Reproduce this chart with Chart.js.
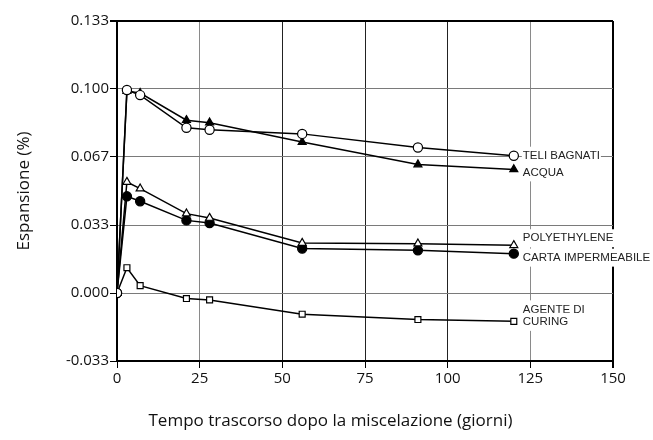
<!DOCTYPE html>
<html>
<head>
<meta charset="utf-8">
<script src="https://cdn.jsdelivr.net/npm/chart.js@4/dist/chart.umd.min.js"></script>
<style>
  html, body { margin: 0; padding: 0; background: #fff; }
  #wrap { width: 653px; height: 440px; }
</style>
</head>
<body>
<div id="wrap"><canvas id="chart" width="653" height="440"></canvas></div>
<script>
// giorni dopo la miscelazione
const giorni = [0, 3, 7, 21, 28, 56, 91, 120];

// espansione (%) per tipo di stagionatura
const teliBagnati = [0, 0.0995, 0.0970, 0.0810, 0.0800, 0.0780, 0.0713, 0.0673];
const acqua = [0, 0.0990, 0.0980, 0.0847, 0.0835, 0.0740, 0.0630, 0.0606];
const polyethylene = [0, 0.0544, 0.0512, 0.0389, 0.0368, 0.0245, 0.0242, 0.0234];
const cartaImpermeabile = [0, 0.0474, 0.0450, 0.0356, 0.0343, 0.0218, 0.0209, 0.0193];
const agenteCuring = [0, 0.0124, 0.0036, -0.0027, -0.0034, -0.0104, -0.0130, -0.0139];

const nomiSerie = [["TELI BAGNATI"], ["ACQUA"], ["POLYETHYLENE"], ["CARTA IMPERMEABILE"], ["AGENTE DI", "CURING"]];

const yTickValori = [-0.1 / 3, 0, 0.1 / 3, 0.2 / 3, 0.3 / 3, 0.4 / 3];
const yTickEtichette = ["-0.033", "0.000", "0.033", "0.067", "0.100", "0.133"];
const xTickValori = [0, 25, 50, 75, 100, 125, 150];
const titoloX = "Tempo trascorso dopo la miscelazione (giorni)";

function punti(valori) {
  return giorni.map((g, i) => ({ x: g, y: valori[i] }));
}

function serie(valori, stile, riempito) {
  return {
    data: punti(valori),
    borderColor: "#000",
    borderWidth: 1.5,
    pointStyle: stile,
    pointRadius: stile === "rect" ? 4.2 : 4.6,
    pointBorderWidth: 1.2,
    pointBorderColor: "#000",
    pointBackgroundColor: riempito ? "#000" : "#fff",
    tension: 0
  };
}

// scostamento verticale (px) delle etichette rispetto all'ultimo punto
const offsetEtichette = [0, 3, -7, 4, -12];

const etichettePlugin = {
  id: "etichette",
  afterDatasetsDraw(chart) {
    const c = chart.ctx;
    c.save();
    c.font = "11.5px 'Liberation Sans', Arial, sans-serif";
    c.textBaseline = "middle";
    chart.data.datasets.forEach((ds, i) => {
      const meta = chart.getDatasetMeta(i);
      const ultimo = meta.data[meta.data.length - 1];
      const x0 = ultimo.x + 9;
      let y = ultimo.y + offsetEtichette[i];
      nomiSerie[i].forEach(riga => {
        const w = c.measureText(riga).width;
        c.fillStyle = "#fff";
        c.fillRect(x0 - 1, y - 9, w + 2, 18);
        c.fillStyle = "#222";
        c.fillText(riga, x0, y);
        y += 12.5;
      });
    });
    // titolo asse x, centrato sulla figura
    c.font = "17px 'Open Sans', sans-serif";
    c.fillStyle = "#111";
    c.textAlign = "center";
    c.fillText(titoloX, chart.width / 2 + 4, 421);
    c.restore();
  }
};

const tickFont = { family: "'Open Sans', sans-serif", size: 15 };

new Chart(document.getElementById("chart"), {
  type: "line",
  data: {
    datasets: [
      serie(teliBagnati, "circle", false),
      serie(acqua, "triangle", true),
      serie(polyethylene, "triangle", false),
      serie(cartaImpermeabile, "circle", true),
      serie(agenteCuring, "rect", false)
    ]
  },
  options: {
    responsive: false,
    animation: false,
    layout: { padding: { top: 21, right: 40, left: 0, bottom: 0 } },
    plugins: { legend: { display: false }, tooltip: { enabled: false } },
    scales: {
      x: {
        type: "linear",
        min: 0,
        max: 150,
        afterBuildTicks: s => { s.ticks = xTickValori.map(v => ({ value: v })); },
        afterFit: s => { s.height = 79; },
        border: { color: "#000", width: 2 },
        grid: {
          color: c => {
            const v = c.tick.value;
            if (v === 150) return "#000";
            if (v === 25 || v === 125) return "#8a8a8a";
            return "#222";
          },
          lineWidth: c => (c.tick.value === 150 ? 2 : 1),
          tickColor: "#000",
          tickLength: 7
        },
        ticks: { font: tickFont, color: "#111", padding: 2, maxRotation: 0 },
        title: { display: false }
      },
      y: {
        type: "linear",
        min: -0.1 / 3,
        max: 0.4 / 3,
        afterBuildTicks: s => { s.ticks = yTickValori.map(v => ({ value: v })); },
        afterFit: s => { s.width = 117; },
        border: { color: "#000", width: 2 },
        grid: {
          color: c => (c.index === yTickValori.length - 1 ? "#000" : "#7a7a7a"),
          lineWidth: c => (c.index === yTickValori.length - 1 ? 2 : 1),
          tickColor: "#000",
          tickLength: 7
        },
        ticks: {
          font: tickFont,
          color: "#111",
          padding: 1,
          callback: (v, i) => yTickEtichette[i]
        },
        title: {
          display: true,
          text: "Espansione (%)",
          font: { family: "'Open Sans', sans-serif", size: 17 },
          color: "#111",
          padding: { top: 14, bottom: 0 }
        }
      }
    }
  },
  plugins: [etichettePlugin]
});
</script>
</body>
</html>
